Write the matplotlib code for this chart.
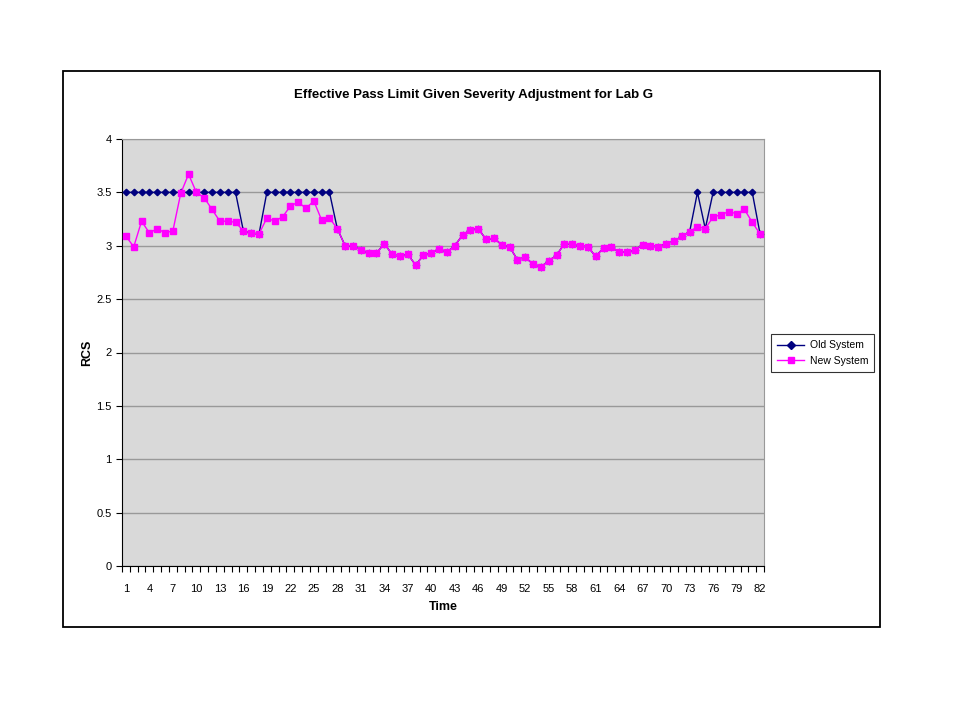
import matplotlib
matplotlib.use("Agg")
import matplotlib.pyplot as plt
from matplotlib.patches import Rectangle
from matplotlib.ticker import FuncFormatter, MultipleLocator

plt.rcParams['font.family'] = ['Liberation Sans', 'DejaVu Sans']

time = list(range(1, 83))

new_system = [
    3.09, 2.99, 3.23, 3.12, 3.16, 3.12, 3.14, 3.49, 3.67, 3.50,
    3.45, 3.34, 3.23, 3.23, 3.22, 3.14, 3.12, 3.11, 3.26, 3.23,
    3.27, 3.37, 3.41, 3.35, 3.42, 3.24, 3.26, 3.16, 3.00, 3.00,
    2.96, 2.93, 2.93, 3.02, 2.92, 2.90, 2.92, 2.82, 2.91, 2.93,
    2.97, 2.94, 3.00, 3.10, 3.15, 3.16, 3.06, 3.07, 3.01, 2.99,
    2.87, 2.89, 2.83, 2.80, 2.86, 2.91, 3.02, 3.02, 3.00, 2.99,
    2.90, 2.98, 2.99, 2.94, 2.94, 2.96, 3.01, 3.00, 2.99, 3.02,
    3.04, 3.09, 3.13, 3.18, 3.16, 3.27, 3.29, 3.32, 3.30, 3.34,
    3.22, 3.11,
]

# periods where the old system held the limit at 3.5
old_capped = list(range(1, 16)) + list(range(19, 28)) + [74] + list(range(76, 82))
old_system = [3.5 if t in old_capped else v for t, v in zip(time, new_system)]

x_labels = [str(t) if (t - 1) % 3 == 0 else '' for t in time]

fig = plt.figure(figsize=(9.6, 7.2), dpi=100)

# chart area border
fig.patches.append(Rectangle((63 / 960, 1 - 627 / 720), (880 - 63) / 960, (627 - 71) / 720,
                             transform=fig.transFigure, fill=False,
                             edgecolor='black', linewidth=1.3))

ax = fig.add_axes([122 / 960, 1 - 566 / 720, (764 - 122) / 960, (566 - 139) / 720])
ax.set_facecolor('#D9D9D9')

ax.plot(time, old_system, color='#000080', linewidth=1, marker='D',
        markersize=3.3, label='Old System', zorder=3)
ax.plot(time, new_system, color='#FF00FF', linewidth=1, marker='s',
        markersize=4.6, label='New System', zorder=4)

ax.set_xlim(0.5, 82.5)
ax.set_ylim(0, 4)
ax.yaxis.set_major_locator(MultipleLocator(0.5))
ax.yaxis.set_major_formatter(FuncFormatter(lambda v, p: '%g' % v))
ax.yaxis.grid(True, color='#999999', linewidth=1)
ax.set_axisbelow(True)

ax.set_xticks(time)
ax.set_xticklabels(x_labels)
ax.set_xticks([t - 0.5 for t in time] + [82.5], minor=True)
ax.tick_params(axis='x', which='major', length=0, labelsize=8, pad=13)
ax.tick_params(axis='x', which='minor', length=4, direction='out', width=0.8)
ax.tick_params(axis='y', length=4, direction='out', labelsize=8, width=0.8)

ax.spines['left'].set_color('black')
ax.spines['bottom'].set_color('black')
ax.spines['top'].set_color('#999999')
ax.spines['right'].set_color('#999999')

ax.set_xlabel('Time', fontsize=9, fontweight='bold', labelpad=5)
ax.set_ylabel('RCS', fontsize=9, fontweight='bold', labelpad=2)

fig.text(474 / 960, 1 - 95 / 720, 'Effective Pass Limit Given Severity Adjustment for Lab G',
         ha='center', va='center', fontsize=9.5, fontweight='bold')

leg = fig.legend(loc='center left', bbox_to_anchor=(771 / 960, 1 - 353 / 720),
                 borderaxespad=0, fontsize=7.5, frameon=True, fancybox=False,
                 edgecolor='black', handlelength=2.6, borderpad=0.6,
                 labelspacing=0.5, handletextpad=0.5)
leg.get_frame().set_linewidth(0.8)
for h in leg.legend_handles:
    h.set_markersize(4.5)

fig.savefig('out.png', dpi=100, facecolor='white')
